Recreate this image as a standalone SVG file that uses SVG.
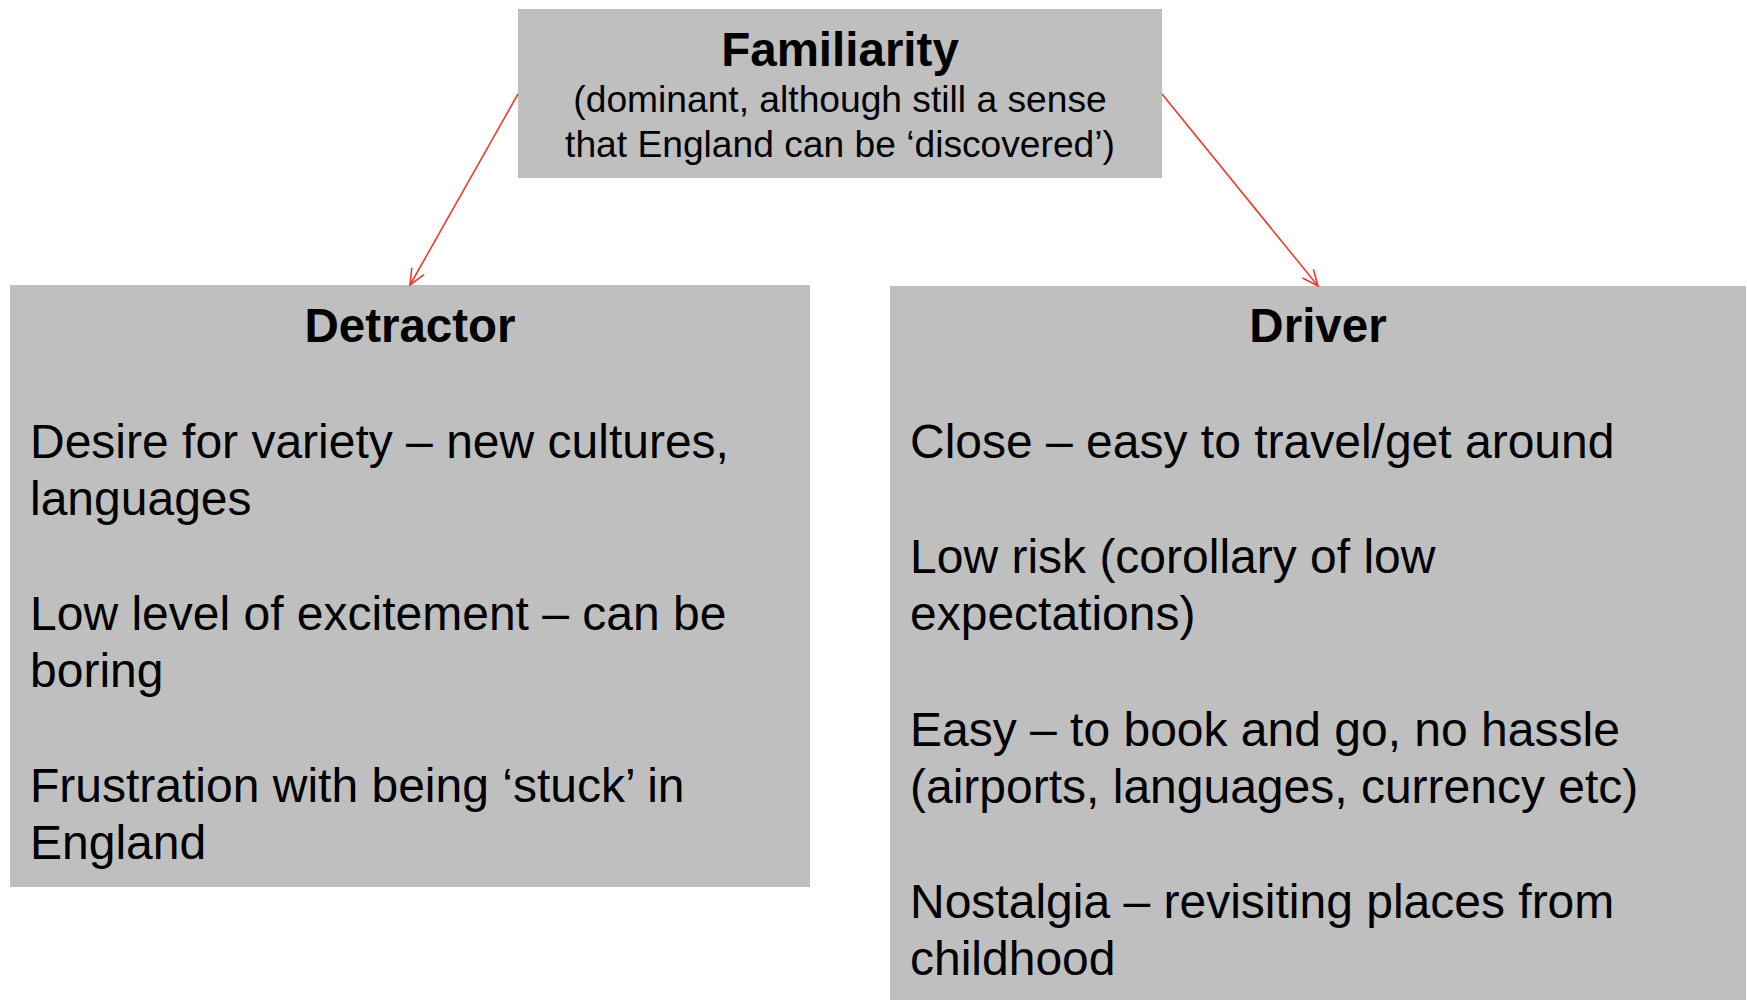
<svg xmlns="http://www.w3.org/2000/svg" width="1747" height="1000" viewBox="0 0 1747 1000">
<defs>
<style>
.box{fill:#bfbfbf}
.t{font-family:"Liberation Sans",Arial,sans-serif;fill:#000}
.h{font-weight:bold;font-size:47.5px;text-anchor:middle}
.b{font-size:48px}
.s{font-size:37.2px;text-anchor:middle}
.c{stroke:#ee3b2b;stroke-width:1.6;fill:none}
</style>
<marker id="arr" viewBox="0 0 20 20" refX="18" refY="10" markerWidth="20" markerHeight="20" markerUnits="userSpaceOnUse" orient="auto">
<path d="M2,3 L18,10 L2,17" fill="none" stroke="#ee3b2b" stroke-width="1.6"/>
</marker>
</defs>
<rect width="1747" height="1000" fill="#fff"/>
<g id="familiarity">
<rect class="box" x="518" y="9" width="644" height="169"/>
<text class="t h" x="840" y="66">Familiarity</text>
<text class="t s" x="840" y="112">(dominant, although still a sense</text>
<text class="t s" x="840" y="157">that England can be ‘discovered’)</text>
</g>
<g id="detractor">
<rect class="box" x="10" y="285" width="800" height="602"/>
<text class="t h" x="410" y="342">Detractor</text>
<text class="t b" x="30" y="458">Desire for variety – new cultures,</text>
<text class="t b" x="30" y="515">languages</text>
<text class="t b" x="30" y="630">Low level of excitement – can be</text>
<text class="t b" x="30" y="687">boring</text>
<text class="t b" x="30" y="802">Frustration with being ‘stuck’ in</text>
<text class="t b" x="30" y="859">England</text>
</g>
<g id="driver">
<rect class="box" x="890" y="286" width="856" height="714"/>
<text class="t h" x="1318" y="342">Driver</text>
<text class="t b" x="910" y="458">Close – easy to travel/get around</text>
<text class="t b" x="910" y="573">Low risk (corollary of low</text>
<text class="t b" x="910" y="630">expectations)</text>
<text class="t b" x="910" y="746">Easy – to book and go, no hassle</text>
<text class="t b" x="910" y="803">(airports, languages, currency etc)</text>
<text class="t b" x="910" y="918">Nostalgia – revisiting places from</text>
<text class="t b" x="910" y="975">childhood</text>
</g>
<g id="connectors">
<line class="c" x1="518" y1="94" x2="410" y2="285" marker-end="url(#arr)"/>
<line class="c" x1="1162" y1="94" x2="1318" y2="286" marker-end="url(#arr)"/>
</g>
</svg>
